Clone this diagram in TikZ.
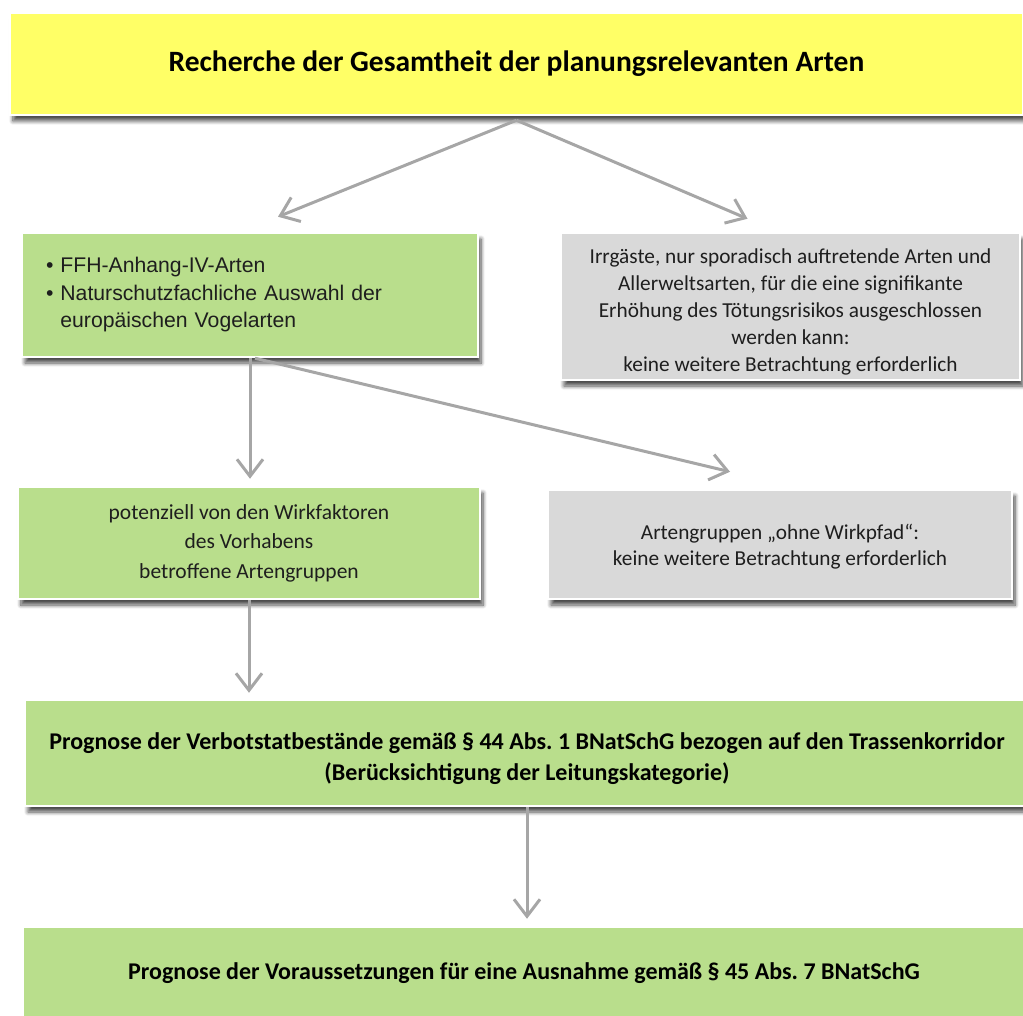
\documentclass[tikz,border=0pt]{standalone}
\usepackage{fontspec}
\setmainfont{Carlito}
\newfontfamily\arialf{Liberation Sans}
\usetikzlibrary{arrows.meta,shadows.blur,calc}
\definecolor{ylw}{RGB}{255,255,102}
\definecolor{grn}{RGB}{185,222,140}
\definecolor{gry}{RGB}{217,217,217}
\definecolor{arrgrey}{RGB}{166,166,166}
\definecolor{txtdark}{RGB}{30,30,30}
\frenchspacing
\begin{document}
\begin{tikzpicture}[x=1pt,y=-1pt,
  box/.style={draw=white, line width=2.5pt, rectangle, inner sep=0pt, align=center,
    blur shadow={shadow xshift=3pt, shadow yshift=-6pt, shadow blur steps=8, shadow opacity=70, shadow blur radius=4pt}},
  greenbox/.style={box, fill=grn, text=txtdark},
  greybox/.style={box, fill=gry, text=txtdark},
  boldtext/.style={font=\bfseries\fontsize{24}{31}\selectfont},
  plaintext/.style={font=\fontsize{21.3}{27}\selectfont},
  arr/.style={draw=arrgrey, line width=3pt, -{Straight Barb[length=17pt,width=26pt]}}
]
\clip (0,0) rectangle (1023,1016);

\node[box, fill=ylw, minimum width=1013pt, minimum height=102pt,
      font=\bfseries\fontsize{29.5}{34}\selectfont] (top) at (516.5,64)
  {Recherche der Gesamtheit der planungsrelevanten Arten};

\node[greenbox, minimum width=456pt, minimum height=124pt, text width=420pt, align=left,
      font=\arialf\fontsize{21.2}{27.5}\selectfont] (g1) at (250,295)
  {\begin{tabular}{@{\hspace{6pt}}l@{\hspace{7pt}}l@{}}
   \textbullet & FFH-Anhang-IV-Arten\\
   \textbullet & Naturschutzfachliche Auswahl der\\
               & europäischen Vogelarten
   \end{tabular}};

\node[greybox, plaintext, minimum width=459pt, minimum height=147pt] (r1) at (790.5,306.5)
  {\rule{0pt}{26pt}Irrgäste, nur sporadisch auftretende Arten und\\
   Allerweltsarten, für die eine signifikante\\
   Erhöhung des Tötungsrisikos ausgeschlossen\\
   werden kann:\\
   keine weitere Betrachtung erforderlich};

\node[greenbox, minimum width=462pt, minimum height=112pt,
      font=\fontsize{21.5}{29.5}\selectfont] (g2) at (249,543)
  {potenziell von den Wirkfaktoren\\
   des Vorhabens\\
   betroffene Artengruppen};

\node[greybox, minimum width=464pt, minimum height=109pt,
      font=\fontsize{21.3}{26.5}\selectfont] (r2) at (780,544.5)
  {\rule{0pt}{20pt}Artengruppen „ohne Wirkpfad“:\\
   keine weitere Betrachtung erforderlich};

\node[greenbox, boldtext, text=black, minimum width=1004pt, minimum height=106pt] (p1) at (527,753)
  {\rule{0pt}{28pt}Prognose der Verbotstatbestände gemäß § 44 Abs. 1 BNatSchG bezogen auf den Trassenkorridor\\
   (Berücksichtigung der Leitungskategorie)};

\node[greenbox, boldtext, text=black, minimum width=1002pt, minimum height=92pt] (p2) at (524,973)
  {Prognose der Voraussetzungen für eine Ausnahme gemäß § 45 Abs. 7 BNatSchG};

\draw[arr] ($(top.south)+(0,4)$) -- ($(g1.north)+(28,-15)$);
\draw[arr] ($(top.south)+(0,4)$) -- ($(r1.north)+(-43,-13)$);
\draw[arr] (g1.south) -- ($(g1.south |- g2.north)+(0,-7)$);
\draw[arr] ($(g1.south)+(5,0)$) -- ($(r2.north)+(-50,-17)$);
\draw[arr] (g2.south) -- ($(g2.south |- p1.north)+(0,-6)$);
\draw[arr] (p1.south) -- ($(p1.south |- p2.north)+(0,-7)$);
\end{tikzpicture}
\end{document}
